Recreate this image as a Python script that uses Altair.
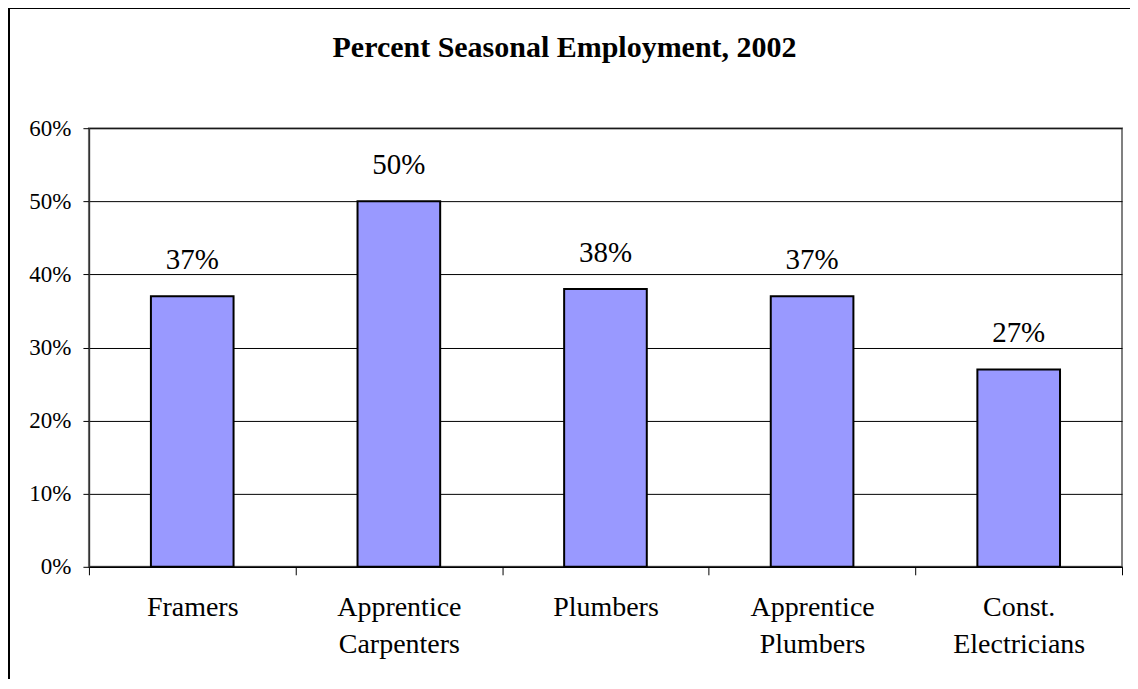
import altair as alt
import pandas as pd

categories = ["Framers", "Apprentice Carpenters", "Plumbers", "Apprentice Plumbers", "Const. Electricians"]
values = [0.37, 0.50, 0.38, 0.37, 0.27]
y_ticks = [0, 0.1, 0.2, 0.3, 0.4, 0.5, 0.6]
title_text = "Percent Seasonal Employment, 2002"

df = pd.DataFrame({"cat": categories, "val": values})
FONT = "Times New Roman, Liberation Serif, serif"

x = alt.X("cat:N", sort=categories, title=None,
          scale=alt.Scale(paddingInner=0, paddingOuter=0),
          axis=alt.Axis(labelExpr="split(datum.label, ' ')", labelAngle=0,
                        labelFont=FONT, labelFontSize=28, labelColor="black",
                        labelLineHeight=37, labelPadding=19, tickBand="extent",
                        tickSize=8, tickColor="black", domainColor="black",
                        domainWidth=1.5, grid=False))
y = alt.Y("val:Q", title=None,
          scale=alt.Scale(domain=[0, 0.6], nice=False),
          axis=alt.Axis(values=y_ticks, format=".0%", labelFont=FONT, labelFontSize=23,
                        labelColor="black", labelPadding=12, tickSize=6, tickColor="black",
                        domainColor="#333333", domainWidth=1.5,
                        grid=True, gridColor="black", gridWidth=1))

bars = alt.Chart(df).mark_bar(color="#9999FF", stroke="black", strokeWidth=2,
                              width=alt.RelativeBandSize(0.4)).encode(x=x, y=y)
labels = alt.Chart(df).mark_text(font=FONT, fontSize=29, dy=-27, baseline="alphabetic", color="black").encode(
    x=alt.X("cat:N", sort=categories), y="val:Q", text=alt.Text("val:Q", format=".0%"))

title = alt.Chart(pd.DataFrame({"t": [title_text]})).mark_text(
    font=FONT, fontSize=30, fontWeight="bold", color="black", baseline="alphabetic", align="center").encode(
    x=alt.value(476), y=alt.value(-71), text="t:N")

border_left = alt.Chart(df).mark_rule(color="black", strokeWidth=1.5).encode(
    x=alt.value(-80), y=alt.value(-121), y2=alt.value(560))
border_top = alt.Chart(df).mark_rule(color="black", strokeWidth=1.5).encode(
    x=alt.value(-80), x2=alt.value(1045), y=alt.value(-120))

chart = alt.layer(bars, labels, title, border_left, border_top).properties(
    width=1034, height=439,
    autosize=alt.AutoSizeParams(type="none"),
    padding={"left": 81, "top": 120, "right": 8, "bottom": 112},
).configure_view(stroke="#808080", strokeWidth=2)

chart.save("out.html", embed_options={"renderer": "svg", "actions": False})
